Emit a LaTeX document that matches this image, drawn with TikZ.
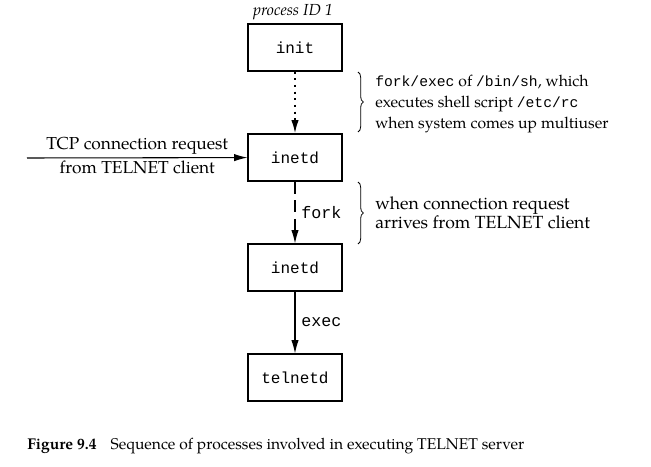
\documentclass[tikz,border=0pt]{standalone}
\usepackage{fontspec}
\setmainfont{TeX Gyre Pagella}
\setmonofont{Liberation Mono}
\usetikzlibrary{arrows.meta,decorations.pathreplacing}
\tikzset{
  proc/.style={draw, line width=0.8pt, minimum width=70.5pt, minimum height=35.25pt,
    inner sep=0pt, font=\ttfamily\fontsize{12}{14}\selectfont},
  flow/.style={line width=0.8pt, -{Latex[length=10pt,width=5.5pt]}},
  note/.style={align=left, anchor=west, inner sep=0pt,
    font=\fontsize{11.8}{16}\selectfont},
  lbl/.style={font=\ttfamily\fontsize{12.5}{14}\selectfont, right=1pt},
  curly/.style={decorate, line width=0.6pt, decoration={brace, amplitude=4pt}},
}
\newcommand{\cw}[1]{{\ttfamily\fontsize{11}{12}\selectfont #1}}
\begin{document}
\begin{tikzpicture}[x=0.75pt, y=-0.75pt]
  \useasboundingbox (0,0) rectangle (651,467);
  % processes
  \node[proc] (init) at (295,47.5) {init};
  \node[font=\itshape\fontsize{12}{14}\selectfont] (pid) at (293,12) {process ID 1};
  \node[proc] (inetd) at (295,157.5) {inetd};
  \node[proc] (child) at (295,267.5) {inetd};
  \node[proc] (telnetd) at (295,377.5) {telnetd};
  \coordinate (client) at (27,158);
  % connectors
  \draw[flow, dash pattern=on 1.5pt off 3.5pt, line width=1.3pt] (init) -- (inetd);
  \draw[flow, dash pattern=on 9pt off 5pt] (inetd) -- node[lbl] (fork) {fork} (child);
  \draw[flow] (child) -- node[lbl] (exec) {exec} (telnetd);
  \draw[flow] (client) -- node[above=-1pt, font=\fontsize{13}{15}\selectfont] (tcp) {TCP connection request}
    node[below=-1.5pt, font=\fontsize{13}{15}\selectfont] (from) {from TELNET client} (inetd);
  % braces
  \draw[curly] (358,72) -- (358,132);
  \draw[curly] (358,182) -- (358,244);
  \node[note] (boot) at (375,104) {\cw{fork/exec} of \cw{/bin/sh}, which\\
    executes shell script \cw{/etc/rc}\\when system comes up multiuser};
  \node[note, font=\fontsize{13.2}{14.5}\selectfont] (req) at (375,212.5)
    {when connection request\\arrives from TELNET client};
  % caption
  \node[anchor=base west, inner sep=0pt, font=\fontsize{11.7}{14}\selectfont] (caption) at (27,449)
    {\textbf{Figure 9.4}\hspace{0.9em}Sequence of processes involved in executing TELNET server};
\end{tikzpicture}
\end{document}
